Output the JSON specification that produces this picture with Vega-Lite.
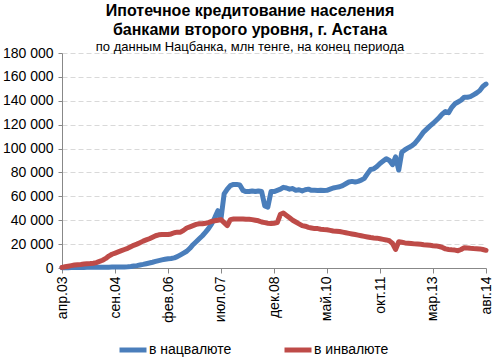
{
  "$schema": "https://vega.github.io/schema/vega-lite/v6.json",
  "width": 424,
  "height": 215,
  "autosize": {"type": "none"},
  "padding": {"left": 62, "top": 53, "right": 13, "bottom": 93},
  "background": "white",
  "title": {
    "text": ["Ипотечное кредитование населения", "банками второго уровня, г. Астана"],
    "subtitle": "по данным Нацбанка, млн  тенге, на конец периода",
    "anchor": "middle",
    "dx": -24,
    "offset": -8,
    "font": "Liberation Sans",
    "fontSize": 16,
    "fontWeight": "bold",
    "lineHeight": 19,
    "color": "#000000",
    "subtitleFont": "Liberation Sans",
    "subtitleFontSize": 13,
    "subtitleColor": "#000000",
    "subtitlePadding": 3
  },
  "data": {
    "format": {"parse": {"d": "utc:'%Y-%m'"}},
    "values": [
      {"d":"2003-04","nat":200,"fx":500},
      {"d":"2003-05","nat":250,"fx":1000},
      {"d":"2003-06","nat":300,"fx":1500},
      {"d":"2003-07","nat":350,"fx":2000},
      {"d":"2003-08","nat":400,"fx":2500},
      {"d":"2003-09","nat":450,"fx":2800},
      {"d":"2003-10","nat":500,"fx":3000},
      {"d":"2003-11","nat":500,"fx":3300},
      {"d":"2003-12","nat":550,"fx":3500},
      {"d":"2004-01","nat":550,"fx":3700},
      {"d":"2004-02","nat":600,"fx":4000},
      {"d":"2004-03","nat":600,"fx":4500},
      {"d":"2004-04","nat":650,"fx":5500},
      {"d":"2004-05","nat":650,"fx":6500},
      {"d":"2004-06","nat":700,"fx":8000},
      {"d":"2004-07","nat":700,"fx":10000},
      {"d":"2004-08","nat":750,"fx":11500},
      {"d":"2004-09","nat":750,"fx":12500},
      {"d":"2004-10","nat":800,"fx":13500},
      {"d":"2004-11","nat":850,"fx":14500},
      {"d":"2004-12","nat":900,"fx":15500},
      {"d":"2005-01","nat":1000,"fx":16500},
      {"d":"2005-02","nat":1200,"fx":17800},
      {"d":"2005-03","nat":1600,"fx":19000},
      {"d":"2005-04","nat":2000,"fx":20000},
      {"d":"2005-05","nat":2500,"fx":21200},
      {"d":"2005-06","nat":3000,"fx":22500},
      {"d":"2005-07","nat":3600,"fx":23500},
      {"d":"2005-08","nat":4200,"fx":24500},
      {"d":"2005-09","nat":4800,"fx":25800},
      {"d":"2005-10","nat":5500,"fx":27000},
      {"d":"2005-11","nat":6200,"fx":27800},
      {"d":"2005-12","nat":6800,"fx":28000},
      {"d":"2006-01","nat":7300,"fx":28000},
      {"d":"2006-02","nat":7800,"fx":28000},
      {"d":"2006-03","nat":8000,"fx":28500},
      {"d":"2006-04","nat":8500,"fx":29500},
      {"d":"2006-05","nat":9500,"fx":30000},
      {"d":"2006-06","nat":11000,"fx":30000},
      {"d":"2006-07","nat":12500,"fx":31500},
      {"d":"2006-08","nat":14000,"fx":33500},
      {"d":"2006-09","nat":16500,"fx":34500},
      {"d":"2006-10","nat":19500,"fx":35500},
      {"d":"2006-11","nat":22000,"fx":36500},
      {"d":"2006-12","nat":24500,"fx":37000},
      {"d":"2007-01","nat":27000,"fx":37000},
      {"d":"2007-02","nat":30000,"fx":37500},
      {"d":"2007-03","nat":33000,"fx":38000},
      {"d":"2007-04","nat":37000,"fx":39000},
      {"d":"2007-05","nat":42000,"fx":39500},
      {"d":"2007-06","nat":48000,"fx":40000},
      {"d":"2007-07","nat":41000,"fx":40500},
      {"d":"2007-08","nat":62000,"fx":38000},
      {"d":"2007-09","nat":66000,"fx":35500},
      {"d":"2007-10","nat":69000,"fx":40500},
      {"d":"2007-11","nat":70000,"fx":41000},
      {"d":"2007-12","nat":70000,"fx":41000},
      {"d":"2008-01","nat":69500,"fx":41000},
      {"d":"2008-02","nat":65000,"fx":41000},
      {"d":"2008-03","nat":64000,"fx":40800},
      {"d":"2008-04","nat":64000,"fx":40800},
      {"d":"2008-05","nat":64500,"fx":40500},
      {"d":"2008-06","nat":64000,"fx":40000},
      {"d":"2008-07","nat":64500,"fx":39500},
      {"d":"2008-08","nat":64000,"fx":38500},
      {"d":"2008-09","nat":52000,"fx":38000},
      {"d":"2008-10","nat":51000,"fx":37500},
      {"d":"2008-11","nat":64000,"fx":37200},
      {"d":"2008-12","nat":64000,"fx":37500},
      {"d":"2009-01","nat":65000,"fx":38000},
      {"d":"2009-02","nat":66000,"fx":45000},
      {"d":"2009-03","nat":67500,"fx":46000},
      {"d":"2009-04","nat":67000,"fx":44000},
      {"d":"2009-05","nat":66000,"fx":42000},
      {"d":"2009-06","nat":66500,"fx":40000},
      {"d":"2009-07","nat":65000,"fx":38500},
      {"d":"2009-08","nat":65500,"fx":37000},
      {"d":"2009-09","nat":64500,"fx":35500},
      {"d":"2009-10","nat":65500,"fx":35000},
      {"d":"2009-11","nat":66000,"fx":34000},
      {"d":"2009-12","nat":65000,"fx":33500},
      {"d":"2010-01","nat":65000,"fx":33000},
      {"d":"2010-02","nat":64800,"fx":33000},
      {"d":"2010-03","nat":65000,"fx":32500},
      {"d":"2010-04","nat":64800,"fx":32200},
      {"d":"2010-05","nat":65000,"fx":32000},
      {"d":"2010-06","nat":66000,"fx":31500},
      {"d":"2010-07","nat":67000,"fx":31000},
      {"d":"2010-08","nat":67500,"fx":30800},
      {"d":"2010-09","nat":68000,"fx":30500},
      {"d":"2010-10","nat":69000,"fx":30000},
      {"d":"2010-11","nat":70500,"fx":29500},
      {"d":"2010-12","nat":72000,"fx":29000},
      {"d":"2011-01","nat":72500,"fx":28500},
      {"d":"2011-02","nat":72000,"fx":28000},
      {"d":"2011-03","nat":72500,"fx":27500},
      {"d":"2011-04","nat":73500,"fx":27000},
      {"d":"2011-05","nat":75000,"fx":26500},
      {"d":"2011-06","nat":79000,"fx":26000},
      {"d":"2011-07","nat":82500,"fx":25500},
      {"d":"2011-08","nat":83000,"fx":25200},
      {"d":"2011-09","nat":85000,"fx":25000},
      {"d":"2011-10","nat":87500,"fx":24500},
      {"d":"2011-11","nat":89500,"fx":24000},
      {"d":"2011-12","nat":91500,"fx":23500},
      {"d":"2012-01","nat":90000,"fx":22800},
      {"d":"2012-02","nat":86500,"fx":20500},
      {"d":"2012-03","nat":93000,"fx":15500},
      {"d":"2012-04","nat":82000,"fx":22000},
      {"d":"2012-05","nat":97000,"fx":21500},
      {"d":"2012-06","nat":99000,"fx":21000},
      {"d":"2012-07","nat":100500,"fx":20800},
      {"d":"2012-08","nat":102000,"fx":20500},
      {"d":"2012-09","nat":104000,"fx":20200},
      {"d":"2012-10","nat":107000,"fx":20000},
      {"d":"2012-11","nat":110500,"fx":19800},
      {"d":"2012-12","nat":114000,"fx":19500},
      {"d":"2013-01","nat":116500,"fx":19300},
      {"d":"2013-02","nat":119000,"fx":19000},
      {"d":"2013-03","nat":121000,"fx":18700},
      {"d":"2013-04","nat":123500,"fx":18500},
      {"d":"2013-05","nat":126000,"fx":18000},
      {"d":"2013-06","nat":129000,"fx":17200},
      {"d":"2013-07","nat":131000,"fx":16000},
      {"d":"2013-08","nat":130000,"fx":15500},
      {"d":"2013-09","nat":134500,"fx":15200},
      {"d":"2013-10","nat":137500,"fx":15000},
      {"d":"2013-11","nat":139000,"fx":14500},
      {"d":"2013-12","nat":140500,"fx":15500},
      {"d":"2014-01","nat":143000,"fx":17000},
      {"d":"2014-02","nat":143000,"fx":16800},
      {"d":"2014-03","nat":143500,"fx":16500},
      {"d":"2014-04","nat":145000,"fx":16300},
      {"d":"2014-05","nat":146500,"fx":16200},
      {"d":"2014-06","nat":148500,"fx":16000},
      {"d":"2014-07","nat":152000,"fx":15500},
      {"d":"2014-08","nat":154000,"fx":14800}
    ]
  },
  "transform": [{"fold": ["nat", "fx"], "as": ["series", "value"]}],
  "mark": {"type": "line", "strokeWidth": 5, "strokeCap": "round", "strokeJoin": "round"},
  "encoding": {
    "x": {
      "field": "d",
      "type": "temporal",
      "scale": {"type": "utc", "domain": [{"year": 2003, "month": 4, "date": 1, "utc": true}, {"year": 2014, "month": 8, "date": 1, "utc": true}]},
      "axis": {
        "title": null,
        "values": [
          {"year": 2003, "month": 4, "date": 1, "utc": true},
          {"year": 2004, "month": 9, "date": 1, "utc": true},
          {"year": 2006, "month": 2, "date": 1, "utc": true},
          {"year": 2007, "month": 7, "date": 1, "utc": true},
          {"year": 2008, "month": 12, "date": 1, "utc": true},
          {"year": 2010, "month": 5, "date": 1, "utc": true},
          {"year": 2011, "month": 10, "date": 1, "utc": true},
          {"year": 2013, "month": 3, "date": 1, "utc": true},
          {"year": 2014, "month": 8, "date": 1, "utc": true}
        ],
        "labelExpr": "['янв','фев','мар','апр','май','июн','июл','авг','сен','окт','ноя','дек'][utcmonth(datum.value)] + '.' + utcFormat(datum.value, '%y')",
        "labelAngle": -90,
        "labelFont": "Liberation Sans",
        "labelFontSize": 14,
        "labelColor": "#000000",
        "labelPadding": 3,
        "labelOverlap": false,
        "labelFlush": false,
        "grid": false,
        "ticks": true,
        "tickSize": 5,
        "tickColor": "#888888",
        "domainColor": "#888888"
      }
    },
    "y": {
      "field": "value",
      "type": "quantitative",
      "scale": {"domain": [0, 180000], "nice": false},
      "axis": {
        "title": null,
        "values": [0, 20000, 40000, 60000, 80000, 100000, 120000, 140000, 160000, 180000],
        "labelExpr": "replace(format(datum.value, ','), ',', ' ')",
        "labelFont": "Liberation Sans",
        "labelFontSize": 14,
        "labelColor": "#000000",
        "labelPadding": 5,
        "ticks": true,
        "tickSize": 4,
        "tickColor": "#888888",
        "domain": true,
        "domainColor": "#888888",
        "grid": true,
        "gridColor": "#d9d9d9",
        "gridDash": [5, 3]
      }
    },
    "color": {
      "field": "series",
      "type": "nominal",
      "scale": {"domain": ["nat", "fx"], "range": ["#4A7EBB", "#BE4B48"]},
      "legend": {
        "title": null,
        "orient": "none",
        "legendX": 55,
        "legendY": 281,
        "direction": "horizontal",
        "symbolType": "stroke",
        "symbolSize": 729,
        "symbolStrokeWidth": 5,
        "labelExpr": "datum.value == 'nat' ? 'в нацвалюте' : 'в инвалюте'",
        "labelFont": "Liberation Sans",
        "labelFontSize": 14,
        "labelColor": "#000000",
        "labelOffset": 0,
        "columnPadding": 42
      }
    }
  },
  "config": {"view": {"stroke": null}}
}
